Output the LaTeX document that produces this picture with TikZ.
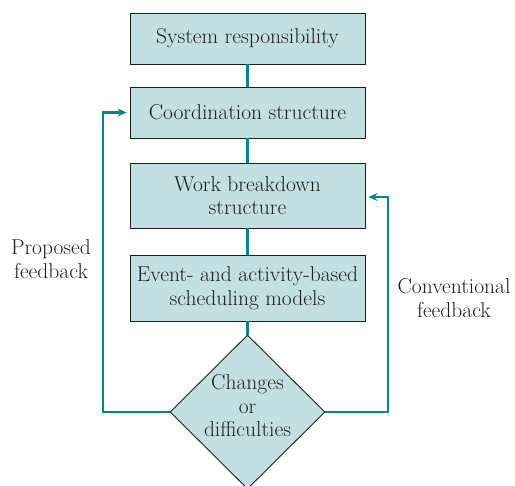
\documentclass[tikz,border=0pt]{standalone}
\usetikzlibrary{shapes.geometric,arrows.meta}
\definecolor{boxfill}{HTML}{C2DFE3}
\definecolor{teal}{HTML}{00878F}
\definecolor{ink}{HTML}{1E1E1E}
\begin{document}
\begin{tikzpicture}[x=1pt,y=-1pt,
  every node/.style={font=\fontsize{21.5}{23.5}\selectfont, text=ink},
  flowbox/.style={draw=ink, line width=0.9pt, fill=boxfill, minimum width=235pt, align=center, inner sep=0pt},
  decision/.style={diamond, draw=ink, line width=0.9pt, fill=boxfill, minimum width=155pt, minimum height=154pt, inner sep=0pt},
  link/.style={draw=teal, line width=2.4pt},
  feedback/.style={draw=teal, line width=2.4pt, -{Stealth[length=9pt,width=8pt,inset=3pt]}},
  note/.style={align=center}]
\useasboundingbox (0,0) rectangle (515,486);
\node[flowbox, minimum height=51pt] (sys) at (247.5,38.5) {System responsibility};
\node[flowbox, minimum height=51pt] (coord) at (247.5,112.5) {Coordination structure};
\node[flowbox, minimum height=65pt] (wbs) at (247.5,195.5) {Work breakdown\\structure};
\node[flowbox, minimum height=66pt] (sched) at (247.5,288) {Event- and activity-based\\scheduling models};
\node[decision] (dec) at (247.5,412) {};
\node[align=center] (dectext) at (247.5,406) {Changes\\or\\difficulties};
\draw[link] (sys) -- (coord);
\draw[link] (coord) -- (wbs);
\draw[link] (wbs) -- (sched);
\draw[link] (sched) -- (dec);
\coordinate (lc) at (103,112.5);
\coordinate (rc) at (388,197);
\draw[feedback] (dec.west) -| (lc) -- ([xshift=-3pt]coord.west);
\draw[feedback] (dec.east) -| (rc) -- ([xshift=3pt]wbs.east |- rc);
\node[note] (prop) at (51,259) {Proposed\\feedback};
\node[note] (conv) at (454,298) {Conventional\\feedback};
\end{tikzpicture}
\end{document}
